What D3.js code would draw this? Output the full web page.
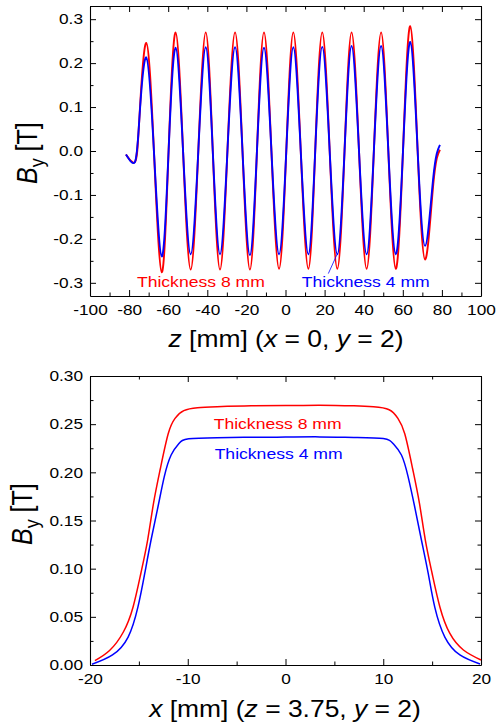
<!DOCTYPE html>
<html>
<head>
<meta charset="utf-8">
<title>By profiles</title>
<script src="https://d3js.org/d3.v7.min.js"></script>
<style>
  body { margin: 0; background: #fff; }
  svg { display: block; }
  text { font-family: "Liberation Sans", Arial, sans-serif; }
  .domain { stroke: #000; stroke-width: 1.1px; }
  .tick line { stroke: #000; stroke-width: 1px; }
  .tick text { fill: #000; }
  path.line { fill: none; }
</style>
</head>
<body>
<div id="chart"></div>
<script>
// ---- top panel: By along z (x = 0, y = 2)
var zPts = [-81.6, -77.0, -74.8, -71.2, -67.3, -63.3, -59.8, -56.2, -52.4, -48.5,
            -44.6, -40.8, -37.2, -33.5, -29.7, -25.8, -22.0, -18.2, -14.6, -11.0,
            -7.2, -3.3, 0.4, 4.0, 7.8, 11.7, 15.2, 18.8, 22.6, 26.5,
            30.2, 33.8, 37.6, 41.5, 45.2, 48.9, 52.6, 56.4, 60.1, 63.8,
            67.6, 71.4, 75.6, 79.0];
var byZ8mm = [-0.008, -0.025, 0.07, 0.246, 0, -0.276, 0, 0.270, 0, -0.270,
              0, 0.270, 0, -0.270, 0, 0.270, 0, -0.270, 0, 0.270,
              0, -0.268, 0, 0.270, 0, -0.268, 0, 0.270, 0, -0.268,
              0, 0.270, 0, -0.268, 0, 0.270, 0, -0.268, 0, 0.284,
              0, -0.247, -0.075, 0.003];
var byZ4mm = [-0.008, -0.025, 0.07, 0.213, 0, -0.240, 0, 0.235, 0, -0.235,
              0, 0.236, 0, -0.235, 0, 0.236, 0, -0.237, 0, 0.235,
              0, -0.235, 0, 0.236, 0, -0.235, 0, 0.237, 0, -0.235,
              0, 0.239, 0, -0.235, 0, 0.239, 0, -0.235, 0, 0.248,
              0, -0.216, -0.060, 0.014];

// ---- bottom panel: By along x (z = 3.75, y = 2)
var xPts8mm = [-19.5, -18.0, -16.6, -15.6, -14.8, -14.1, -13.5, -12.8, -12.0, -11.3,
               -10.4, -9.0, -7.0, -3.5, 0, 3.5, 7.0, 9.0, 10.6,
               11.5, 12.2, 13.0, 13.7, 14.3, 15.0, 15.8, 16.8, 18.2, 20.0];
var byX8mm = [0.0045, 0.015, 0.034, 0.060, 0.095, 0.130, 0.168, 0.204, 0.240, 0.256,
              0.264, 0.267, 0.268, 0.269, 0.2693, 0.2697, 0.269, 0.268, 0.265,
              0.256, 0.240, 0.204, 0.168, 0.130, 0.095, 0.060, 0.033, 0.0156, 0.0052];
var xPts4mm = [-19.8, -17.7, -16.1, -15.1, -14.4, -13.75, -13.05, -12.4, -11.7, -10.9,
               -9.9, -7.0, -3.5, 0, 3.5, 7.0, 10.0, 11.0,
               11.86, 12.54, 13.22, 13.9, 14.6, 15.27, 16.3, 17.84, 19.9];
var byX4mm = [0.0007, 0.0104, 0.029, 0.060, 0.095, 0.130, 0.164, 0.1955, 0.218, 0.230,
              0.2348, 0.236, 0.2364, 0.2366, 0.2368, 0.2362, 0.235, 0.230,
              0.218, 0.1955, 0.164, 0.130, 0.095, 0.060, 0.029, 0.0104, 0.001];

// tick values
var zMajor = [-100, -80, -60, -40, -20, 0, 20, 40, 60, 80, 100];
var zMinor = [-90, -70, -50, -30, -10, 10, 30, 50, 70, 90];
var byTopMajor = [-0.3, -0.2, -0.1, 0.0, 0.1, 0.2, 0.3];
var byTopMinor = [-0.25, -0.15, -0.05, 0.05, 0.15, 0.25];
var xMajor = [-20, -10, 0, 10, 20];
var xMinor = [-15, -5, 5, 15];
var byBotMajor = [0.00, 0.05, 0.10, 0.15, 0.20, 0.25, 0.30];
var byBotMinor = [0.025, 0.075, 0.125, 0.175, 0.225, 0.275];

var RED = "#ff0000", BLUE = "#0000ff";
var SX = 1.15; // text in the picture is a bit wide

var svg = d3.select("#chart").append("svg")
    .attr("width", 501)
    .attr("height", 727);

function wideText(sel) {
    sel.each(function() {
        var t = d3.select(this);
        var x = +t.attr("x") || 0;
        t.attr("x", x / SX).attr("transform", "scale(" + SX + ",1)");
    });
}

function panel(box, xDom, yDom, xMaj, xMin, yMaj, yMin, xFmt, yFmt) {
    var x = d3.scaleLinear().domain(xDom).range([box.left, box.right]);
    var y = d3.scaleLinear().domain(yDom).range([box.bottom, box.top]);

    var sides = [
        { axis: d3.axisBottom, scale: x, maj: xMaj, min: xMin, t: "translate(0," + box.bottom + ")", fmt: xFmt },
        { axis: d3.axisTop, scale: x, maj: xMaj, min: xMin, t: "translate(0," + box.top + ")", fmt: null },
        { axis: d3.axisLeft, scale: y, maj: yMaj, min: yMin, t: "translate(" + box.left + ",0)", fmt: yFmt },
        { axis: d3.axisRight, scale: y, maj: yMaj, min: yMin, t: "translate(" + box.right + ",0)", fmt: null }
    ];
    sides.forEach(function(s) {
        var g = svg.append("g").attr("transform", s.t);
        g.call(s.axis(s.scale).tickValues(s.maj).tickSizeInner(-6).tickSizeOuter(0)
            .tickPadding(s.axis === d3.axisLeft ? 7 : 8)
            .tickFormat(s.fmt ? s.fmt : function() { return ""; }));
        g.attr("font-size", 15).attr("font-family", null);
        g.selectAll(".tick text").call(wideText);
        var gm = svg.append("g").attr("transform", s.t);
        gm.call(s.axis(s.scale).tickValues(s.min).tickSize(-3.5).tickFormat(function() { return ""; }));
        gm.select(".domain").remove();
    });
    return { x: x, y: y };
}

function drawLine(sc, xs, ys, color, width) {
    var pts = xs.map(function(d, i) { return [d, ys[i]]; });
    svg.append("path")
        .datum(pts)
        .attr("class", "line")
        .attr("stroke", color)
        .attr("stroke-width", width)
        .attr("d", d3.line()
            .curve(d3.curveNatural)
            .x(function(d) { return sc.x(d[0]); })
            .y(function(d) { return sc.y(d[1]); }));
}

function label(px, py, color, size, anchor, transformExtra) {
    return svg.append("text")
        .attr("transform", "translate(" + px + "," + py + ") scale(" + SX + ",1)" + (transformExtra || ""))
        .attr("text-anchor", anchor)
        .attr("font-size", size)
        .attr("fill", color);
}

// rotated title, starting (bottom end) at py and running upward
function yTitle(px, py) {
    var t = label(px, py, "#000", 25, "start", " rotate(-90)");
    t.append("tspan").attr("font-style", "italic").text("B");
    t.append("tspan").attr("font-size", 18).attr("dy", 6).text("y");
    t.append("tspan").attr("dy", -6).text(" [T]");
}

function xTitle(px, py, parts) {
    var t = label(px, py, "#000", 23, "middle");
    parts.forEach(function(p) {
        t.append("tspan").attr("font-style", p[1] ? "italic" : "normal").text(p[0]);
    });
}

var fmtInt = function(d) { return String(d); };

// top panel
var pTop = panel({ left: 90, right: 481, top: 6, bottom: 296 }, [-100, 100], [-0.33, 0.33],
    zMajor, zMinor, byTopMajor, byTopMinor, fmtInt, function(d) { return d.toFixed(1); });
drawLine(pTop, zPts, byZ8mm, RED, 1.9);
drawLine(pTop, zPts, byZ4mm, BLUE, 1.9);
svg.append("line")
    .attr("x1", pTop.x(21.9)).attr("y1", pTop.y(-0.279))
    .attr("x2", pTop.x(26.5)).attr("y2", pTop.y(-0.234))
    .attr("stroke", BLUE).attr("stroke-width", 0.8);
label(pTop.x(-76), pTop.y(-0.31), RED, 15.3, "start").text("Thickness 8 mm");
label(pTop.x(8.3), pTop.y(-0.31), BLUE, 15.3, "start").text("Thickness 4 mm");
yTitle(37, 184);
xTitle(286, 346.5, [["z", true], [" [mm] (", false], ["x", true], [" = 0, ", false], ["y", true], [" = 2)", false]]);

// bottom panel
var pBot = panel({ left: 90, right: 481, top: 376, bottom: 665 }, [-20, 20], [0, 0.30],
    xMajor, xMinor, byBotMajor, byBotMinor, fmtInt, function(d) { return d.toFixed(2); });
drawLine(pBot, xPts8mm, byX8mm, RED, 1.5);
drawLine(pBot, xPts4mm, byX4mm, BLUE, 1.5);
label(pBot.x(-7.35), pBot.y(0.245), RED, 15.3, "start").text("Thickness 8 mm");
label(pBot.x(-7.25), pBot.y(0.2135), BLUE, 15.3, "start").text("Thickness 4 mm");
yTitle(32, 545);
xTitle(285, 716.5, [["x", true], [" [mm] (", false], ["z", true], [" = 3.75, ", false], ["y", true], [" = 2)", false]]);
</script>
</body>
</html>
